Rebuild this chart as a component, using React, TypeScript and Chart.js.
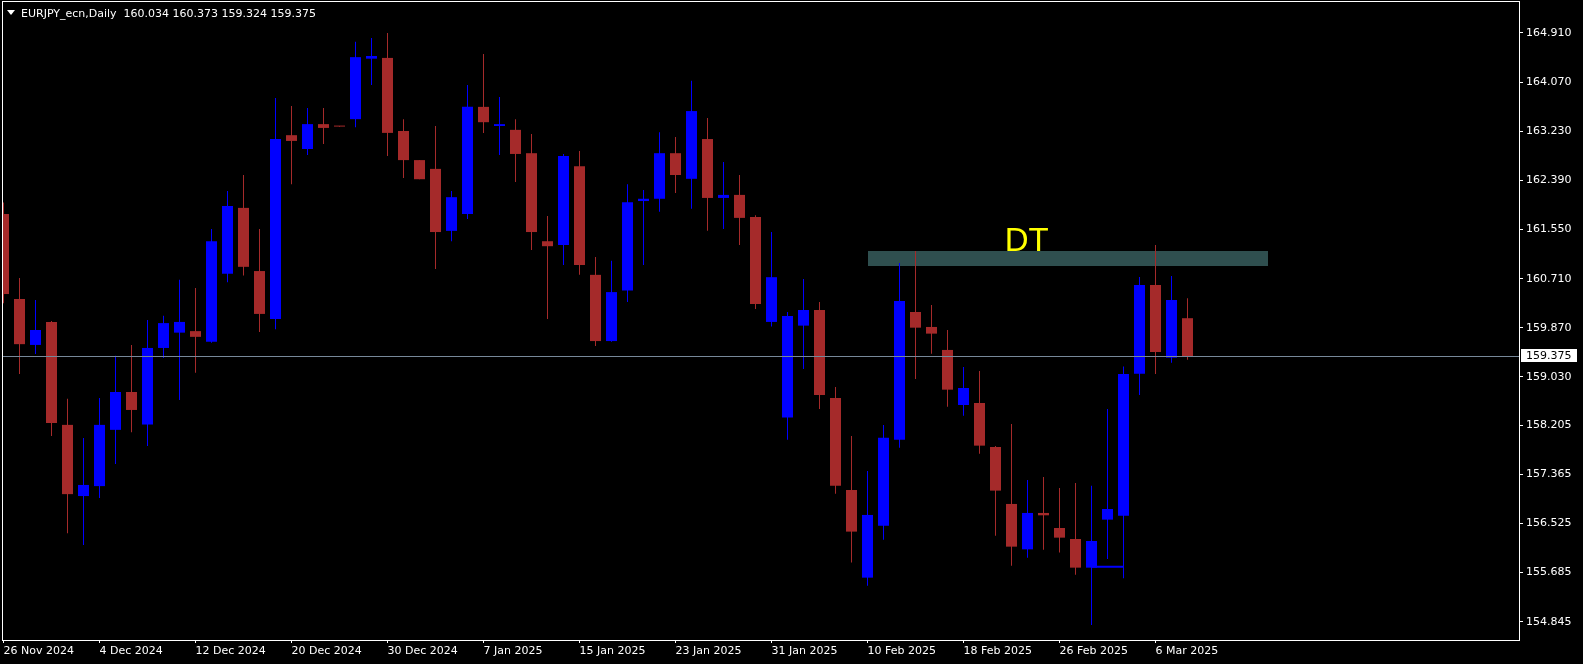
import { useEffect, useRef } from "react";
import { Chart, registerables } from "chart.js";

Chart.register(...registerables);

const symbolTitle = "EURJPY_ecn,Daily";

const dates = [
  "26 Nov 2024", "27 Nov 2024", "28 Nov 2024", "29 Nov 2024",
  "2 Dec 2024", "3 Dec 2024", "4 Dec 2024", "5 Dec 2024", "6 Dec 2024", "9 Dec 2024", "10 Dec 2024",
  "11 Dec 2024", "12 Dec 2024", "13 Dec 2024", "16 Dec 2024", "17 Dec 2024", "18 Dec 2024", "19 Dec 2024",
  "20 Dec 2024", "23 Dec 2024", "24 Dec 2024", "25 Dec 2024", "26 Dec 2024", "27 Dec 2024", "30 Dec 2024",
  "31 Dec 2024",
  "1 Jan 2025", "2 Jan 2025", "3 Jan 2025", "6 Jan 2025", "7 Jan 2025", "8 Jan 2025", "9 Jan 2025",
  "10 Jan 2025", "13 Jan 2025", "14 Jan 2025", "15 Jan 2025", "16 Jan 2025", "17 Jan 2025", "20 Jan 2025",
  "21 Jan 2025", "22 Jan 2025", "23 Jan 2025", "24 Jan 2025", "27 Jan 2025", "28 Jan 2025", "29 Jan 2025",
  "30 Jan 2025", "31 Jan 2025",
  "3 Feb 2025", "4 Feb 2025", "5 Feb 2025", "6 Feb 2025", "7 Feb 2025", "10 Feb 2025", "11 Feb 2025",
  "12 Feb 2025", "13 Feb 2025", "14 Feb 2025", "17 Feb 2025", "18 Feb 2025", "19 Feb 2025", "20 Feb 2025",
  "21 Feb 2025", "24 Feb 2025", "25 Feb 2025", "26 Feb 2025", "27 Feb 2025", "28 Feb 2025",
  "3 Mar 2025", "4 Mar 2025", "5 Mar 2025", "6 Mar 2025", "7 Mar 2025", "10 Mar 2025",
];

const opens = [
  161.815, 160.362, 159.577, 159.970, 158.210, 156.993, 157.163, 158.125, 158.772, 158.216,
  159.525, 159.787, 159.813, 159.630, 160.794, 161.920, 160.840, 160.022, 163.163, 162.927,
  163.352, 163.316, 163.437, 164.471, 164.484, 163.235, 162.737, 162.587, 161.527, 161.815,
  163.647, 163.320, 163.254, 162.855, 161.350, 161.285, 162.633, 160.775, 159.643, 160.506,
  162.037, 162.076, 162.855, 162.417, 163.097, 162.090, 162.142, 161.763, 159.970, 158.334,
  159.907, 160.174, 158.670, 157.097, 155.598, 156.487, 157.957, 160.140, 159.884, 159.491,
  158.550, 158.584, 157.832, 156.858, 156.082, 156.704, 156.447, 156.259, 155.769, 156.590,
  156.658, 159.086, 160.602, 159.359, 160.034,
];

const highs = [
  162.011, 160.722, 160.343, 159.985, 158.655, 157.987, 158.668, 159.394, 159.577, 160.003,
  160.075, 160.690, 160.552, 161.560, 162.207, 162.482, 161.560, 163.797, 163.660, 163.627,
  163.627, 163.320, 164.759, 164.825, 164.910, 163.437, 162.737, 163.320, 162.207, 164.020,
  164.550, 163.817, 163.437, 163.182, 161.782, 162.842, 162.894, 161.082, 161.017, 162.325,
  162.227, 163.215, 163.130, 164.092, 163.457, 162.705, 162.482, 161.795, 161.507, 160.140,
  160.704, 160.311, 158.858, 158.020, 157.422, 158.208, 160.978, 161.183, 160.260, 159.832,
  159.200, 159.132, 157.849, 158.225, 157.268, 157.319, 157.131, 157.217, 157.171, 158.482,
  159.206, 160.739, 161.286, 160.756, 160.373,
];

const lows = [
  160.290, 159.080, 159.420, 158.020, 156.358, 156.155, 156.960, 157.543, 158.085, 157.850,
  159.355, 158.635, 159.100, 159.616, 160.650, 160.762, 159.800, 159.845, 162.325, 162.822,
  163.012, 163.306, 163.300, 164.020, 162.809, 162.430, 162.410, 160.873, 161.350, 161.730,
  163.202, 162.822, 162.364, 161.200, 160.022, 160.945, 160.775, 159.558, 159.630, 160.310,
  160.945, 161.854, 162.175, 161.906, 161.527, 161.560, 161.285, 160.192, 159.891, 157.957,
  159.166, 158.482, 157.034, 155.855, 155.461, 156.248, 157.821, 158.995, 159.428, 158.522,
  158.368, 157.718, 156.316, 155.803, 155.940, 156.077, 156.026, 155.649, 154.789, 155.917,
  155.587, 158.721, 159.080, 159.274, 159.324,
];

const closes = [
  160.447, 159.590, 159.832, 158.243, 157.026, 157.183, 158.210, 158.772, 158.465, 159.525,
  159.950, 159.970, 159.715, 161.350, 161.952, 160.912, 160.107, 163.097, 163.065, 163.352,
  163.287, 163.310, 164.497, 164.517, 163.202, 162.737, 162.410, 161.507, 162.103, 163.647,
  163.385, 163.352, 162.842, 161.507, 161.265, 162.809, 160.945, 159.643, 160.480, 162.018,
  162.076, 162.855, 162.482, 163.575, 162.090, 162.142, 161.749, 160.277, 160.735, 160.072,
  160.174, 158.721, 157.171, 156.385, 156.670, 157.992, 160.328, 159.872, 159.770, 158.812,
  158.841, 157.855, 157.086, 156.128, 156.704, 156.664, 156.282, 155.769, 156.225, 156.772,
  159.080, 160.602, 159.456, 160.345, 159.375,
];

const xTickLabels = [
  "26 Nov 2024", "4 Dec 2024", "12 Dec 2024", "20 Dec 2024", "30 Dec 2024", "7 Jan 2025",
  "15 Jan 2025", "23 Jan 2025", "31 Jan 2025", "10 Feb 2025", "18 Feb 2025", "26 Feb 2025", "6 Mar 2025",
];

const priceTicks = [
  164.910, 164.070, 163.230, 162.390, 161.550, 160.710, 159.870,
  159.030, 158.205, 157.365, 156.525, 155.685, 154.845,
];

// DT resistance zone (bar index range, price range) and its label
const dtZoneBars = [54, 79];
const dtZonePrices = [160.932, 161.188];
const dtLabelText = "DT";
const dtLabelAt = [62.58, 161.19];

// blue trend line drawn under the late-February lows
const trendBars = [68, 70];
const trendPrice = 155.785;

const BULL = "#0000FF";
const BEAR = "#A52A2A";
const FONT = '"DejaVu Sans"';

const mtPlugin = {
  id: "mt4Decor",
  beforeDraw(chart: any) {
    const { ctx } = chart;
    ctx.save();
    ctx.fillStyle = "#000000";
    ctx.fillRect(0, 0, chart.width, chart.height);
    ctx.restore();
  },
  beforeDatasetsDraw(chart: any) {
    const { ctx, chartArea, scales } = chart;
    const xs = scales.x;
    const ys = scales.y;
    const x0 = xs.getPixelForValue(dtZoneBars[0]);
    const x1 = xs.getPixelForValue(dtZoneBars[1]);
    const y0 = ys.getPixelForValue(dtZonePrices[1]);
    const y1 = ys.getPixelForValue(dtZonePrices[0]);
    ctx.save();
    ctx.beginPath();
    ctx.rect(chartArea.left, chartArea.top, chartArea.right - chartArea.left, chartArea.bottom - chartArea.top);
    ctx.clip();
    ctx.fillStyle = "#2F4F4F";
    ctx.fillRect(Math.round(x0), Math.round(y0), Math.round(x1) - Math.round(x0), Math.round(y1) - Math.round(y0));
    ctx.restore();
  },
  afterDatasetsDraw(chart: any) {
    const { ctx, chartArea, scales } = chart;
    const xs = scales.x;
    const ys = scales.y;
    const last = closes[closes.length - 1];
    const py = Math.floor(ys.getPixelForValue(last)) + 0.5;
    ctx.save();
    ctx.strokeStyle = "#778899";
    ctx.lineWidth = 1;
    ctx.beginPath();
    ctx.moveTo(chartArea.left, py);
    ctx.lineTo(chartArea.right, py);
    ctx.stroke();

    ctx.fillStyle = "#FFFF00";
    ctx.font = '33px "Liberation Sans"';
    ctx.textAlign = "left";
    ctx.textBaseline = "alphabetic";
    ctx.fillText(dtLabelText, xs.getPixelForValue(dtLabelAt[0]), ys.getPixelForValue(dtLabelAt[1]));
    ctx.restore();
  },
  afterDraw(chart: any) {
    const { ctx, chartArea, scales } = chart;
    const ys = scales.y;
    ctx.save();
    // frame
    ctx.strokeStyle = "#FFFFFF";
    ctx.lineWidth = 1;
    ctx.strokeRect(
      chartArea.left - 0.5,
      chartArea.top - 0.5,
      chartArea.right - chartArea.left + 1,
      chartArea.bottom - chartArea.top + 1
    );
    // current price label
    const n = closes.length - 1;
    const last = closes[n];
    const py = Math.floor(ys.getPixelForValue(last));
    ctx.fillStyle = "#FFFFFF";
    ctx.fillRect(chartArea.right + 2, py - 7, 56, 13);
    ctx.fillStyle = "#000000";
    ctx.font = "11px " + FONT;
    ctx.textAlign = "left";
    ctx.textBaseline = "middle";
    ctx.fillText(last.toFixed(3), chartArea.right + 7, py + 0.5);
    // header
    ctx.fillStyle = "#FFFFFF";
    ctx.beginPath();
    ctx.moveTo(7, 10);
    ctx.lineTo(15, 10);
    ctx.lineTo(11, 15);
    ctx.closePath();
    ctx.fill();
    ctx.textBaseline = "alphabetic";
    const header =
      symbolTitle + "  " +
      [opens[n], highs[n], lows[n], closes[n]].map((v) => v.toFixed(3)).join(" ");
    ctx.fillText(header, 21, 17);
    ctx.restore();
  },
};

export default function App() {
  const ref = useRef<HTMLCanvasElement | null>(null);

  useEffect(() => {
    document.body.style.margin = "0";
    document.body.style.background = "#000";
    const canvas = ref.current;
    if (!canvas) return;

    const barColor = (c: any) =>
      closes[c.dataIndex] >= opens[c.dataIndex] ? BULL : BEAR;

    const chart = new Chart(canvas, {
      type: "bar",
      data: {
        datasets: [
          {
            type: "line",
            label: "trend",
            data: trendBars.map((b) => ({ x: b, y: trendPrice })),
            borderColor: BULL,
            borderWidth: 2,
            pointRadius: 0,
            order: 0,
          } as any,
          {
            label: "body",
            data: dates.map((_, i) => ({ x: i, y: [opens[i], closes[i]] })),
            backgroundColor: barColor,
            barThickness: 11,
            minBarLength: 1,
            grouped: false,
            inflateAmount: 0,
            borderWidth: 0,
            clip: 0,
            order: 1,
          } as any,
          {
            label: "wick",
            data: dates.map((_, i) => ({ x: i, y: [lows[i], highs[i]] })),
            backgroundColor: barColor,
            barThickness: 1,
            grouped: false,
            inflateAmount: 0,
            borderWidth: 0,
            clip: 0,
            order: 2,
          } as any,
        ],
      },
      options: {
        animation: false,
        responsive: false,
        devicePixelRatio: 1,
        events: [],
        layout: { padding: { left: 3, top: 2, right: 0, bottom: 0 } },
        plugins: {
          legend: { display: false },
          tooltip: { enabled: false },
          title: { display: false },
        },
        scales: {
          x: {
            type: "linear",
            min: -0.03125,
            max: 94.71875,
            offset: false,
            grid: { display: true, drawOnChartArea: false, offset: false, color: "#FFFFFF", tickLength: 3, tickColor: "#FFFFFF" },
            border: { display: false },
            afterBuildTicks: (s: any) => {
              s.ticks = xTickLabels.map((l) => ({ value: dates.indexOf(l) }));
            },
            afterFit: (s: any) => {
              s.height = 24;
              s.paddingLeft = 0;
              s.paddingRight = 0;
            },
            ticks: {
              autoSkip: false,
              maxRotation: 0,
              minRotation: 0,
              align: "start",
              padding: 2,
              color: "#FFFFFF",
              font: { family: "DejaVu Sans", size: 11 },
              callback: (v: any) => dates[Math.round(Number(v))] ?? "",
            },
          },
          y: {
            type: "linear",
            position: "right",
            min: 154.532,
            max: 165.44,
            grid: { display: true, drawOnChartArea: false, color: "#FFFFFF", tickLength: 4, tickColor: "#FFFFFF" },
            border: { display: false },
            afterBuildTicks: (s: any) => {
              s.ticks = priceTicks.map((v) => ({ value: v }));
            },
            afterFit: (s: any) => {
              s.width = 64;
              s.paddingTop = 0;
              s.paddingBottom = 0;
            },
            ticks: {
              autoSkip: false,
              padding: 3,
              crossAlign: "near",
              color: "#FFFFFF",
              font: { family: "DejaVu Sans", size: 11 },
              callback: (v: any) => Number(v).toFixed(3),
            },
          },
        },
      } as any,
      plugins: [mtPlugin],
    });

    return () => chart.destroy();
  }, []);

  return (
    <div style={{ position: "fixed", left: 0, top: 0, width: 1583, height: 664, background: "#000" }}>
      <canvas ref={ref} width={1583} height={664} style={{ display: "block" }} />
    </div>
  );
}
